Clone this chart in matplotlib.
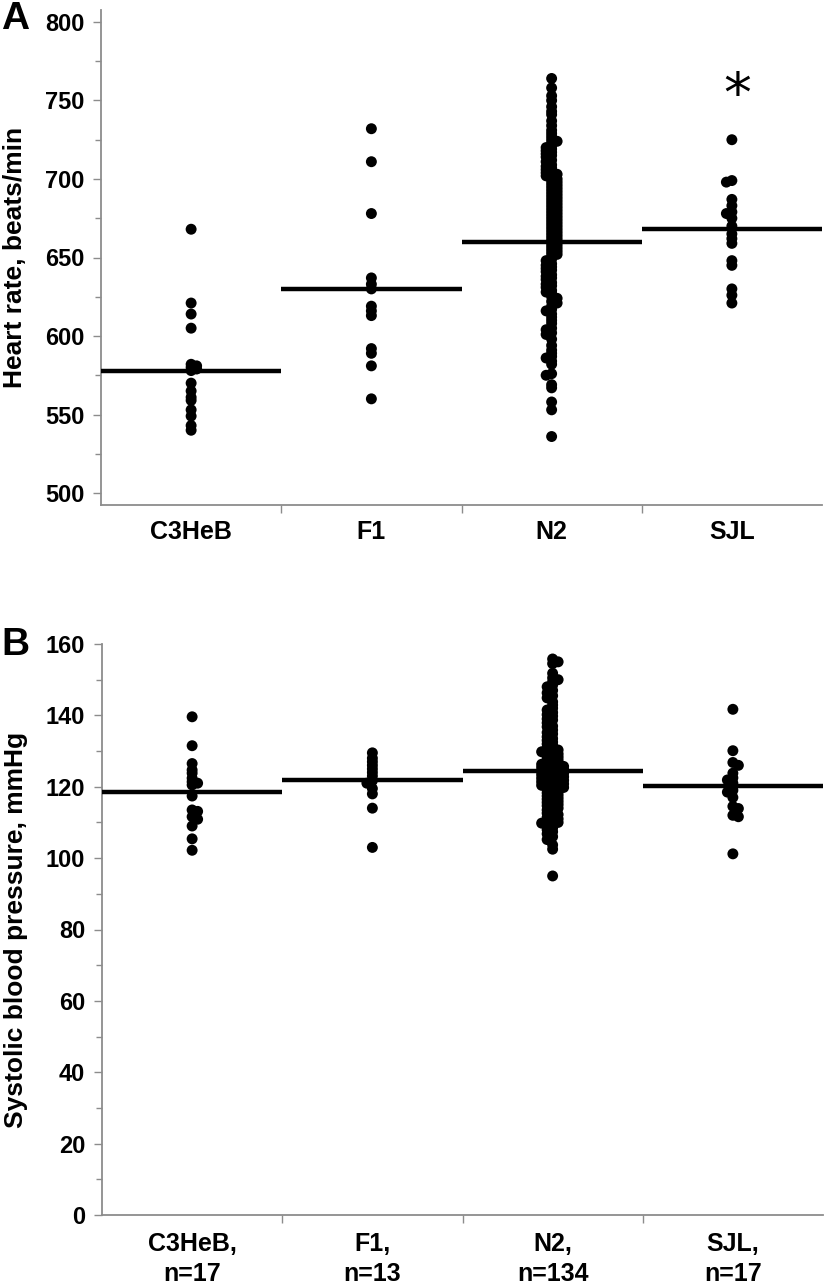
import numpy as np
import matplotlib
matplotlib.use("Agg")
import matplotlib.pyplot as plt

plt.rcParams['font.family'] = ['Liberation Sans', 'DejaVu Sans']
plt.rcParams['font.weight'] = 'bold'

## Data
strains_a = ["C3HeB", "F1", "N2", "SJL"]
strains_b = ["C3HeB,\nn=17", "F1,\nn=13", "N2,\nn=134", "SJL,\nn=17"]

# Heart rate, beats/min
hr_c3heb = [668, 621, 614, 605, 582, 581, 580, 579, 578, 570, 565, 561,
            559, 553, 549, 543, 540]
hr_f1 = [732, 711, 678, 637, 633, 630, 619, 616, 613, 592, 589, 581, 560]
hr_n2 = [764, 758, 753, 750, 746, 743, 741, 737, 734, 731,
         729, 727, 725, 724, 723, 721, 720,
         719, 718, 717, 716, 715, 714, 712, 711,
         709, 708, 707, 706, 705, 704, 703, 703, 702, 701, 700,
         699, 698, 697, 696, 695, 694, 693, 692, 691, 690,
         689, 688, 687, 686, 685, 684, 683, 682, 681, 680,
         679, 678, 677, 676, 675, 674, 673, 672, 671, 670,
         669, 668, 667, 666, 665, 664, 663, 662, 661, 660,
         659, 658, 657, 656, 655, 654, 653, 652, 651,
         649, 648, 646, 645, 644, 643, 642, 641,
         639, 638, 637, 636, 634, 633, 632, 631,
         629, 628, 627, 625, 624, 622, 621,
         619, 617, 616, 614, 612, 610,
         608, 605, 604, 602, 601,
         598, 594, 591,
         589, 587, 586, 584, 582,
         576, 575, 569, 567, 558, 553, 536]
hr_sjl = [725, 699, 698, 687, 683, 679, 678, 675, 670, 665, 662, 659,
          648, 645, 630, 626, 621]
hr_means = [578, 630, 660, 668]

# Systolic blood pressure, mmHg
bp_c3heb = [139.6, 131.5, 126.5, 124.7, 123.8, 122.4, 121.4, 121.0, 120.5,
            117.4, 113.5, 113.1, 111.6, 110.9, 109.0, 105.4, 102.2]
bp_f1 = [129.5, 128, 127, 126, 125, 124, 123, 121.7, 121, 119.5, 118, 114, 103]
bp_n2 = [155.8, 155.0, 154.5, 151.8, 150.5, 150.0,
         149.4, 148.5, 148.0, 147.0, 146.3, 145.5,
         144.9, 143.8, 142.9, 142.0, 141.5, 140.8, 140.2,
         139.8, 139.0, 138.7, 137.9, 137.0, 136.8, 135.9, 135.2,
         134.8, 134.0, 133.5, 133.0, 132.5, 132.0, 131.6, 131.0, 130.6, 130.3, 130.0,
         129.8, 129.5, 129.2, 128.9, 128.6, 128.3, 128.0, 127.7, 127.4, 127.1, 126.8,
         126.5, 126.3, 126.1, 125.9, 125.7, 125.5, 125.4, 125.3, 125.2, 125.1, 125.0,
         124.8, 124.6, 124.4, 124.2, 124.0, 123.8, 123.6, 123.4, 123.2, 123.0,
         122.8, 122.6, 122.4, 122.2, 122.0, 121.8, 121.6, 121.4, 121.2, 121.0,
         120.8, 120.6, 120.4, 120.2, 120.1, 120.0, 119.8, 119.5,
         119.2, 118.9, 118.6, 118.3, 118.0, 117.7, 117.4, 117.1, 116.8, 116.5,
         116.2, 115.9, 115.6, 115.3, 115.0, 114.7, 114.3, 114.0,
         113.5, 113.0, 112.6, 112.2, 111.8, 111.4, 111.0, 110.6, 110.3, 110.0,
         109.8, 109.4, 109.0, 108.5, 108.0, 107.4, 106.8, 106.0, 105.2,
         103.7, 102.5, 95.0]
bp_sjl = [141.7, 130.1, 126.8, 126.0, 123.8, 122.5, 121.9, 121.0, 120.0,
          119.0, 118.5, 117.0, 114.5, 113.9, 112.0, 111.6, 101.2]
bp_means = [118.5, 121.8, 124.4, 120.2]

W, H = 826, 1284
fig = plt.figure(figsize=(W / 100, H / 100), dpi=100)

axis_grey = '#8c8c8c'


def swarm(vals, px_per_y, px_per_x, sep=3.0, step=5.5):
    # simple dodge: keep dots in a column, push some sideways, else stack on centre
    vals = np.asarray(vals, dtype=float)
    offs = np.zeros(len(vals))
    placed = []
    for n, i in enumerate(np.argsort(vals)[::-1]):
        y = vals[i] * px_per_y
        x = 0.0
        order = [0, 1, -1, 2, -2] if n % 2 else [0, -1, 1, -2, 2]
        for k in order:
            cand = k * step
            if all((cand - px) ** 2 + (y - py) ** 2 >= sep ** 2 for px, py in placed):
                x = cand
                break
        placed.append((x, y))
        offs[i] = x / px_per_x
    return offs


def panel(rect, groups, means, ylim, major, minor, labels, ylabel, xpad):
    ax = fig.add_axes(rect)
    height_px = rect[3] * H
    width_px = rect[2] * W
    px_per_y = height_px / (ylim[1] - ylim[0])
    px_per_x = width_px / 4.0
    for i, vals in enumerate(groups):
        off = swarm(vals, px_per_y, px_per_x)
        ax.scatter(i + off, vals, s=62, color='black', edgecolors='none', zorder=3)
    ax.hlines(means, np.arange(4) - 0.5, np.arange(4) + 0.5, color='black', lw=3.2, zorder=4)
    ax.set_xlim(-0.5, 3.5)
    ax.set_ylim(*ylim)
    for s in ['top', 'right']:
        ax.spines[s].set_visible(False)
    for s in ['left', 'bottom']:
        ax.spines[s].set_color(axis_grey)
        ax.spines[s].set_linewidth(1.3)
    ax.set_yticks(major)
    ax.set_yticks(minor, minor=True)
    ax.tick_params(axis='y', which='major', length=6, width=1, color=axis_grey,
                   labelsize=17, pad=6)
    ax.tick_params(axis='y', which='minor', length=4, width=1, color=axis_grey)
    ax.set_xticks([0.5, 1.5, 2.5])
    ax.set_xticklabels([])
    ax.set_xticks(range(4), minor=True)
    ax.set_xticklabels(labels, minor=True, fontsize=18, fontweight='bold', linespacing=1.35)
    ax.tick_params(axis='x', which='major', length=6, width=1, color=axis_grey)
    ax.tick_params(axis='x', which='minor', length=0, pad=xpad)
    for t in ax.get_yticklabels():
        t.set_fontweight('bold')
    ax.set_ylabel(ylabel, fontsize=19, fontweight='bold')
    ax.yaxis.set_label_coords(-0.103, 0.5)
    return ax


ax_a = panel([101 / W, 1 - 505 / H, 721 / W, 495 / H],
             [hr_c3heb, hr_f1, hr_n2, hr_sjl], hr_means,
             (492.4, 807.6), np.arange(500, 801, 50), np.arange(525, 800, 50),
             strains_a, "Heart rate, beats/min", 11)
ax_a.text(3.03, 752, '*', fontsize=40, ha='center', va='center', family='DejaVu Sans',
          fontweight='normal')

ax_b = panel([102 / W, 1 - 1215 / H, 721 / W, 571 / H],
             [bp_c3heb, bp_f1, bp_n2, bp_sjl], bp_means,
             (0, 160), np.arange(0, 161, 20), np.arange(10, 160, 20),
             strains_b, "Systolic blood pressure, mmHg", 12)

fig.text(15 / W, 1 - 19 / H, 'A', fontsize=28, fontweight='bold', ha='center', va='center')
fig.text(15 / W, 1 - 645 / H, 'B', fontsize=28, fontweight='bold', ha='center', va='center')

fig.savefig('out.png', dpi=100)
